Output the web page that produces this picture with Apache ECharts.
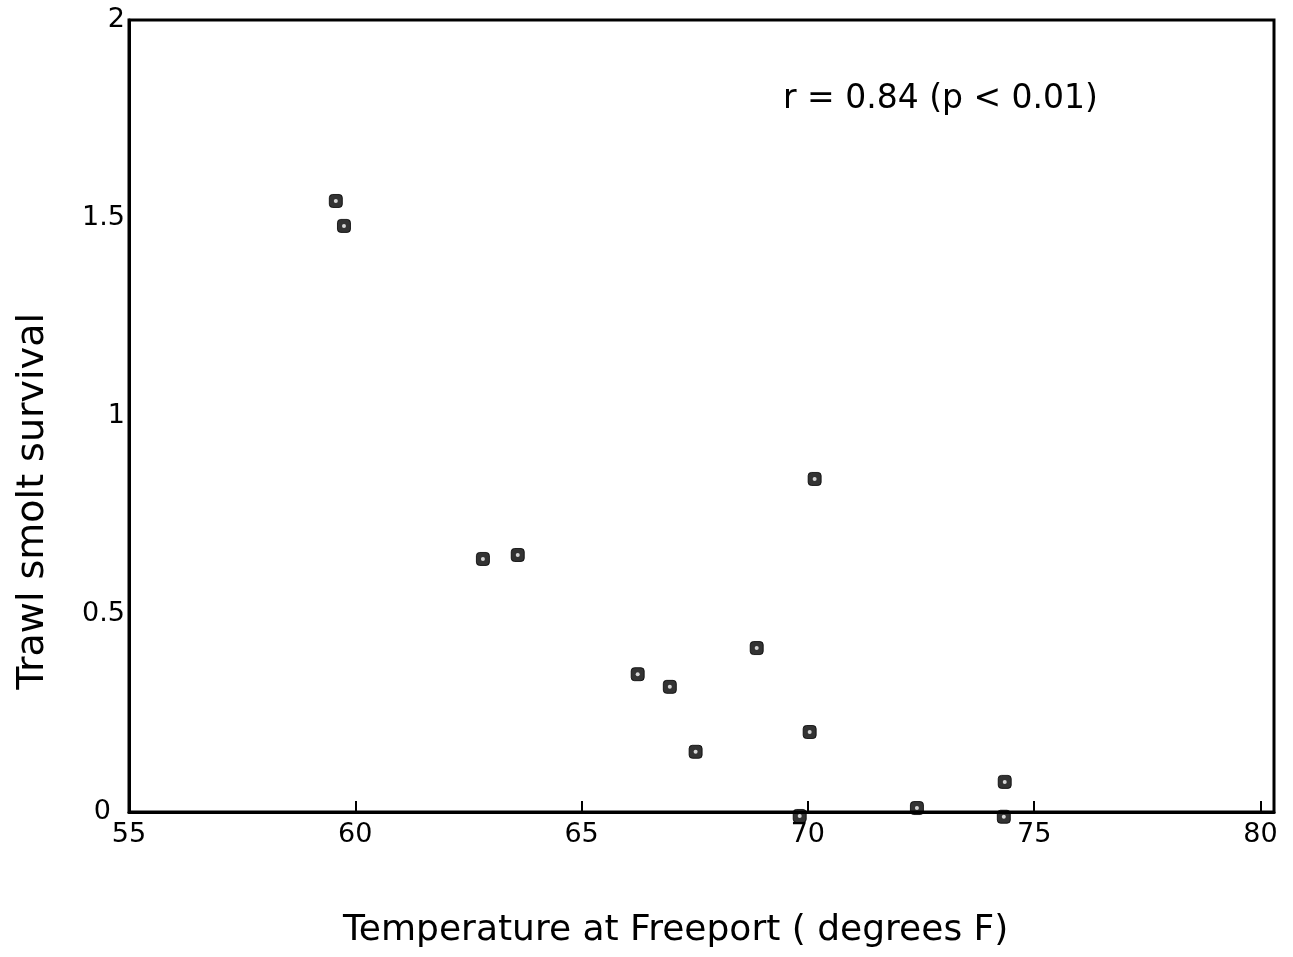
<!DOCTYPE html>
<html>
<head>
<meta charset="utf-8">
<script src="https://cdn.jsdelivr.net/npm/echarts@6/dist/echarts.min.js"></script>
<style>html,body{margin:0;padding:0;background:#fff;}#c{width:1293px;height:957px;}</style>
</head>
<body>
<div id="c"></div>
<script>
// Temperature at Freeport (degrees F)
const temperature = [59.57, 59.75, 62.82, 63.59, 66.24, 66.95, 67.52, 68.87, 70.15, 70.04, 69.82, 72.41, 74.35, 74.33];
// Trawl smolt survival
const survival = [1.543, 1.48, 0.639, 0.649, 0.348, 0.316, 0.152, 0.414, 0.841, 0.202, -0.01, 0.01, 0.076, -0.012];
const xTicks = [55, 60, 65, 70, 75, 80];
const yTicks = [0, 0.5, 1, 1.5, 2];
const xTitle = 'Temperature at Freeport ( degrees F)';
const yTitle = 'Trawl smolt survival';
const note = 'r = 0.84 (p < 0.01)';

const points = temperature.map((t, i) => [t, survival[i]]);
const FONT = 'DejaVu Sans';

const chart = echarts.init(document.getElementById('c'));
chart.setOption({
  backgroundColor: '#fff',
  animation: false,
  grid: { left: 129, right: 19, top: 20, bottom: 145, show: true, borderColor: '#000', borderWidth: 3, backgroundColor: 'transparent' },
  xAxis: {
    type: 'value', min: 55, max: 80.3, interval: 5,
    axisLine: { show: true, lineStyle: { color: '#000', width: 3 } },
    axisTick: { show: true, inside: true, length: 11, lineStyle: { color: '#000', width: 2 } },
    splitLine: { show: false },
    axisLabel: {
      color: '#000', fontFamily: FONT, fontSize: 27, margin: 9, showMaxLabel: false,
      formatter: v => xTicks.includes(v) ? String(v) : ''
    }
  },
  yAxis: {
    type: 'value', min: 0, max: 2, interval: 0.5,
    axisLine: { show: true, lineStyle: { color: '#000', width: 3 } },
    axisTick: { show: false },
    splitLine: { show: false },
    axisLabel: {
      color: '#000', fontFamily: FONT, fontSize: 27, margin: 4,
      formatter: v => yTicks.includes(v) ? (v === 0 ? '{z|0}' : String(v)) : '',
      rich: { z: { fontFamily: FONT, fontSize: 27, color: '#000', padding: [0, 14, 0, 0] } }
    }
  },
  series: [
    {
      type: 'scatter', data: points, symbol: 'roundRect', symbolSize: 13, clip: false,
      itemStyle: { color: '#000', borderColor: '#000', borderWidth: 1 }, z: 3
    },
    {
      type: 'scatter', data: points, symbol: 'circle', symbolSize: 4, clip: false,
      itemStyle: { color: '#fff' }, z: 4, silent: true
    }
  ],
  graphic: [
    { type: 'text', left: 783, top: 83, style: { text: note, font: '33px "DejaVu Sans"', fill: '#000' } },
    { type: 'text', left: 343, top: 913, style: { text: xTitle, font: '36px "DejaVu Sans"', fill: '#000' } },
    { type: 'text', left: 14, top: 313, rotation: Math.PI / 2, style: { text: yTitle, font: '38px "DejaVu Sans"', fill: '#000' } }
  ]
});
</script>
</body>
</html>
